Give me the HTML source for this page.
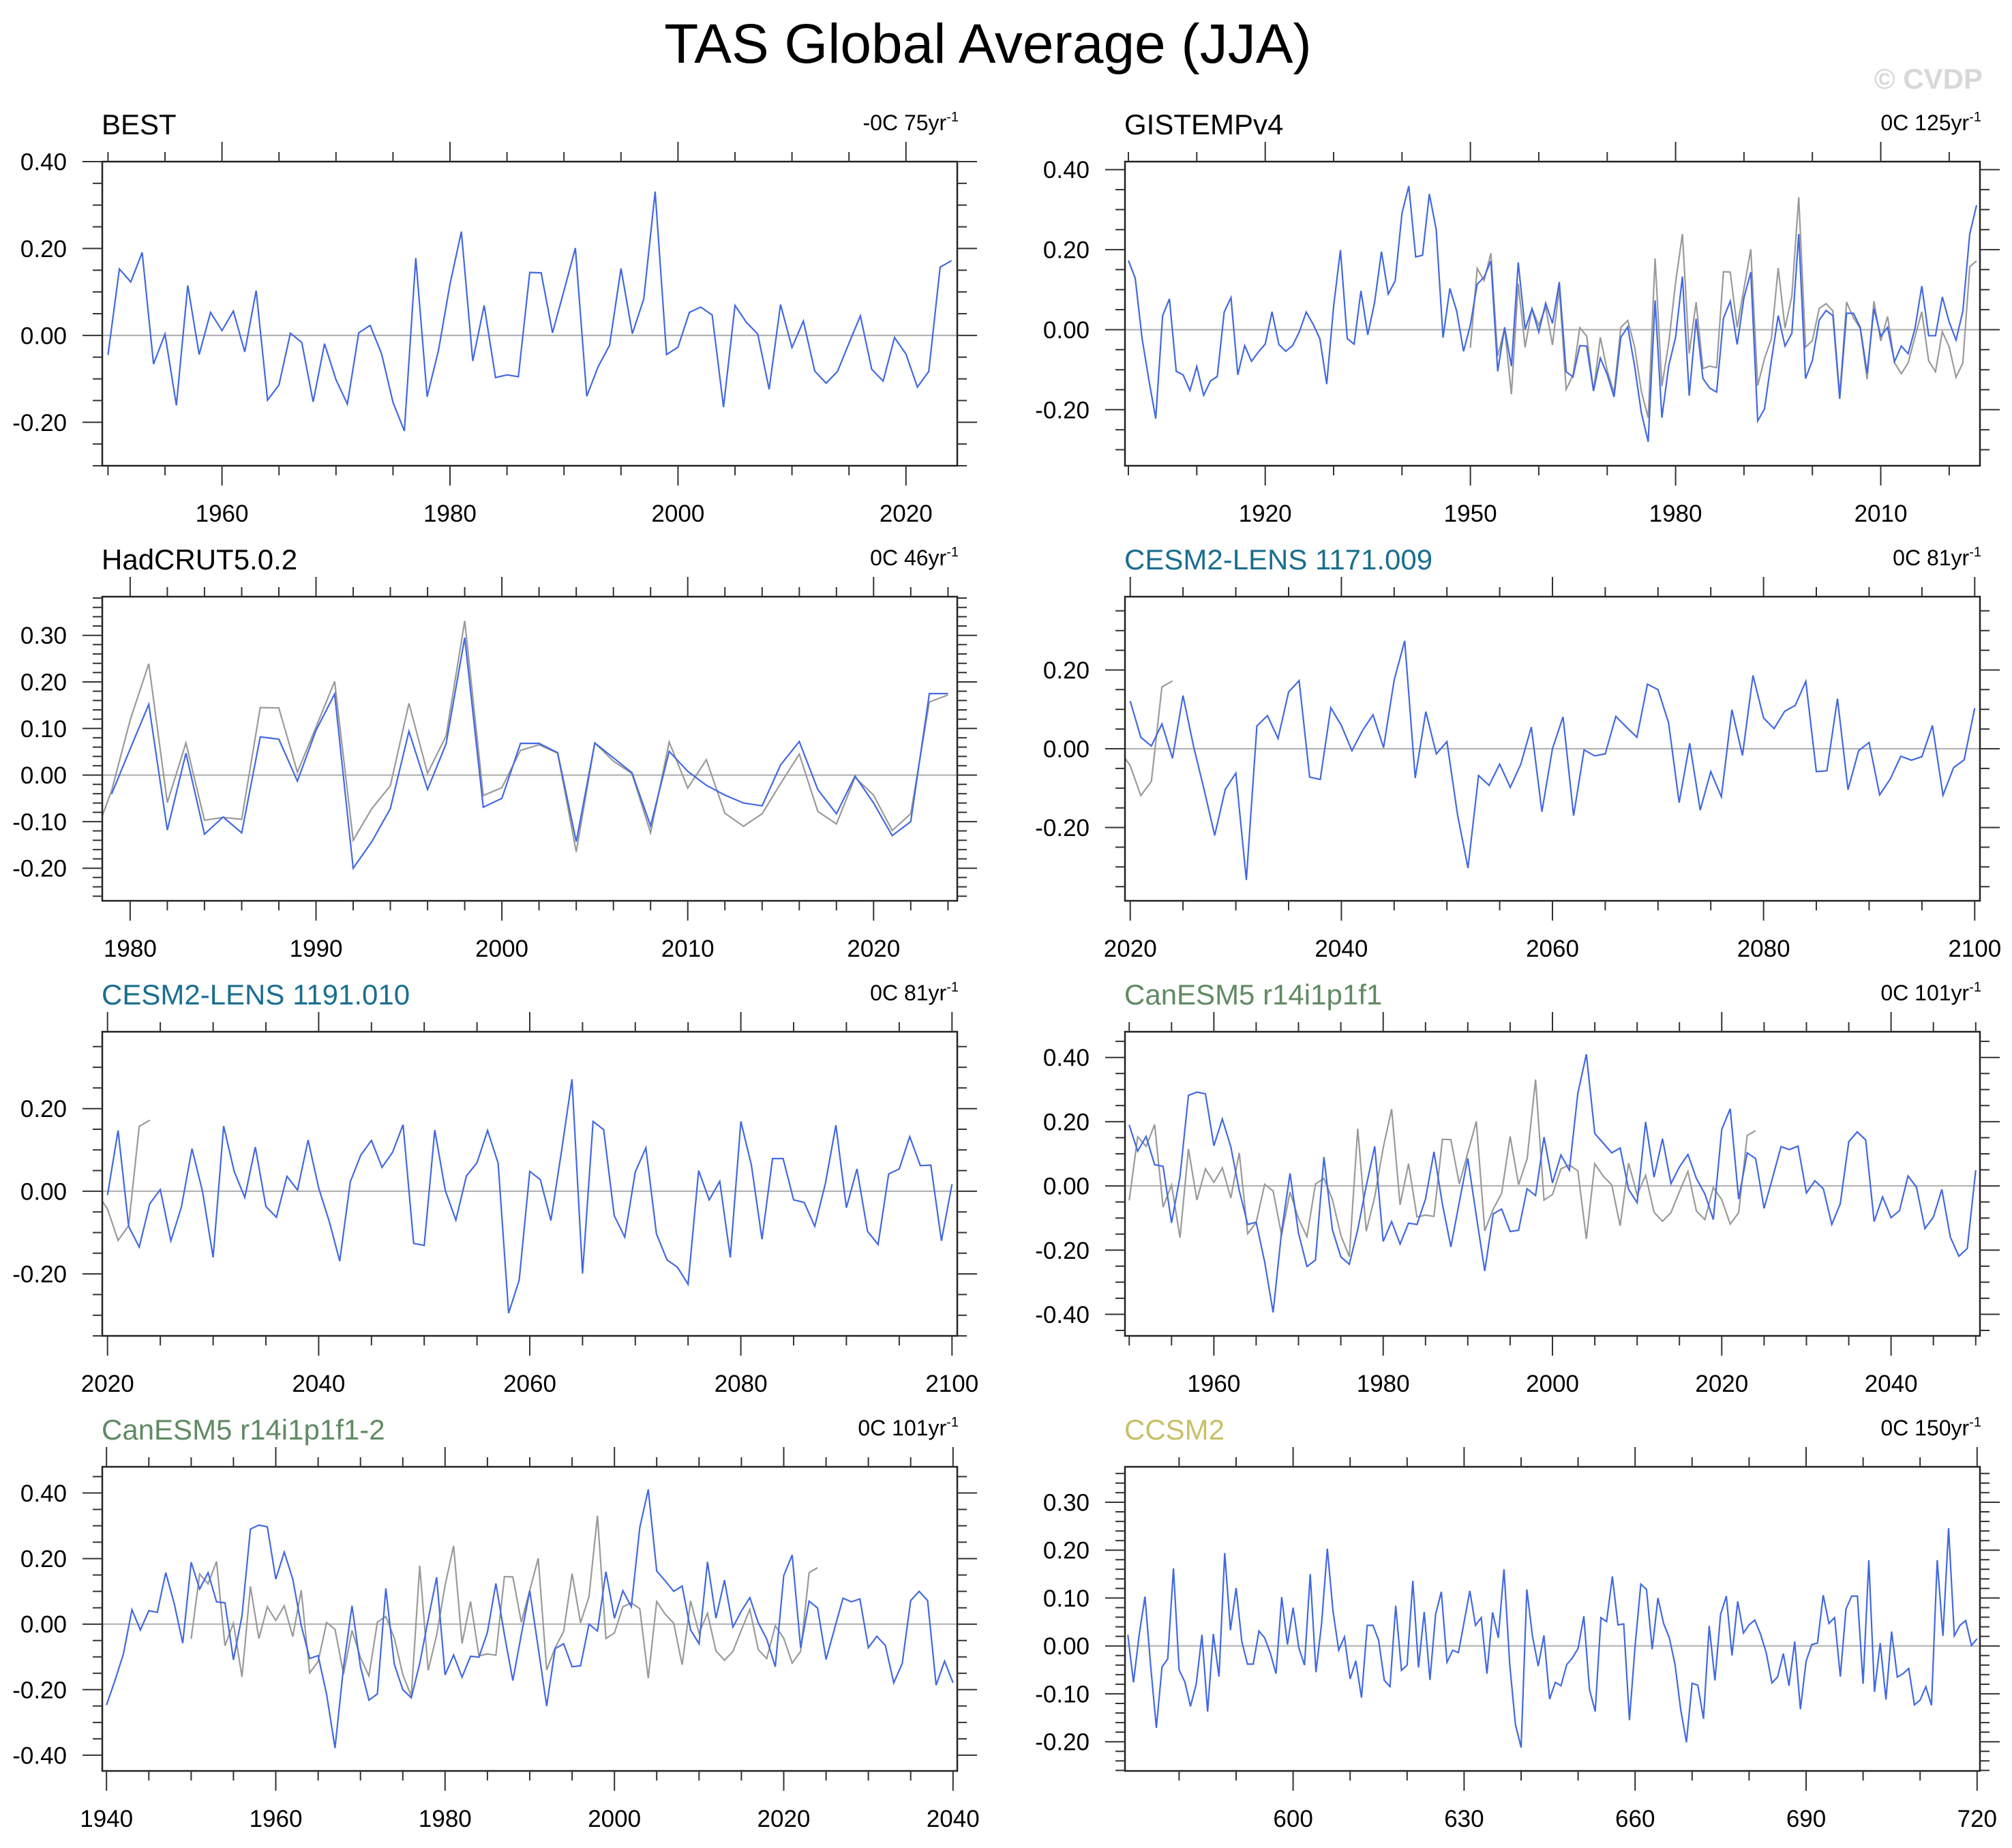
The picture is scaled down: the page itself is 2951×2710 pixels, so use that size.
<!DOCTYPE html>
<html>
<head>
<meta charset="utf-8">
<style>
html,body{margin:0;padding:0;background:#fff;}
#root{position:relative;width:2951px;height:2710px;overflow:hidden;background:#fff;font-family:"Liberation Sans",sans-serif;}
svg text{font-family:"Liberation Sans",sans-serif;}
</style>
</head>
<body>
<div id="root">
<svg id="chart" width="2951" height="2710" viewBox="0 0 2951 2710" xmlns="http://www.w3.org/2000/svg">
  <text x="1449" y="92" font-size="82" text-anchor="middle" fill="#000">TAS Global Average (JJA)</text>
  <text x="2908" y="130" font-size="42" font-weight="bold" text-anchor="end" fill="#d8d8d8">© CVDP</text>
</svg>
</div>
<script>
// ---------- data (annual JJA anomalies, degC) ----------
const bestStart = 1950;
const bestValues = [-0.045,0.153,0.123,0.191,-0.066,0.003,-0.161,0.115,-0.044,0.053,
0.011,0.056,-0.038,0.103,-0.149,-0.114,0.005,-0.016,-0.153,-0.019,
-0.102,-0.158,0.006,0.023,-0.042,-0.154,-0.220,0.178,-0.141,-0.034,
0.118,0.239,-0.059,0.069,-0.097,-0.091,-0.095,0.145,0.144,0.006,
0.103,0.201,-0.140,-0.072,-0.023,0.154,0.004,0.084,0.331,-0.044,
-0.027,0.053,0.065,0.047,-0.165,0.069,0.030,0.003,-0.124,0.071,
-0.028,0.033,-0.082,-0.110,-0.083,-0.018,0.045,-0.078,-0.105,-0.005,
-0.043,-0.119,-0.083,0.157,0.172];

const gistempStart = 1900;
const gistempValues = [0.173,0.129,-0.022,-0.126,-0.222,0.035,0.077,-0.104,-0.113,-0.152,
-0.092,-0.164,-0.128,-0.117,0.044,0.080,-0.113,-0.040,-0.079,-0.056,
-0.036,0.045,-0.037,-0.054,-0.040,-0.005,0.044,0.014,-0.023,-0.136,
0.058,0.199,-0.022,-0.036,0.097,-0.013,0.069,0.195,0.089,0.122,
0.291,0.359,0.182,0.186,0.339,0.250,-0.020,0.103,0.046,-0.054,
0.012,0.114,0.131,0.172,-0.104,0.006,-0.091,0.168,0.001,0.052,
-0.006,0.066,0.016,0.119,-0.105,-0.118,-0.040,-0.041,-0.153,-0.071,
-0.112,-0.168,-0.019,0.007,-0.090,-0.208,-0.280,0.073,-0.220,-0.090,
-0.019,0.133,-0.165,0.027,-0.122,-0.146,-0.156,0.029,0.071,-0.037,
0.080,0.144,-0.228,-0.198,-0.078,0.035,-0.041,-0.009,0.239,-0.122,
-0.077,0.024,0.048,0.035,-0.173,0.041,0.041,0.006,-0.109,0.053,
-0.016,0.006,-0.080,-0.041,-0.060,0.003,0.109,-0.015,-0.015,0.082,
0.019,-0.026,0.046,0.239,0.311];

const hadcrutStart = 1979;
const hadcrutValues = [-0.041,0.056,0.152,-0.118,0.047,-0.127,-0.090,-0.124,0.082,0.077,
-0.013,0.096,0.174,-0.200,-0.143,-0.072,0.094,-0.031,0.067,0.295,
-0.069,-0.050,0.068,0.068,0.048,-0.143,0.069,0.037,0.005,-0.109,
0.051,0.008,-0.022,-0.043,-0.060,-0.066,0.022,0.072,-0.031,-0.083,
-0.002,-0.060,-0.130,-0.100,0.175,0.175];

const cesm1171Start = 2020;
const cesm1171Values = [0.121,0.029,0.007,0.063,-0.024,0.135,0.006,-0.104,-0.220,-0.103,
-0.062,-0.333,0.058,0.084,0.026,0.144,0.173,-0.072,-0.078,0.104,
0.059,-0.005,0.046,0.086,0.003,0.174,0.274,-0.074,0.094,-0.013,
0.018,-0.167,-0.303,-0.068,-0.093,-0.039,-0.098,-0.039,0.055,-0.160,
0.000,0.081,-0.170,-0.003,-0.018,-0.013,0.082,0.055,0.029,0.164,
0.150,0.066,-0.137,0.014,-0.156,-0.058,-0.122,0.099,-0.017,0.186,
0.078,0.051,0.095,0.110,0.171,-0.058,-0.056,0.127,-0.104,-0.005,
0.016,-0.117,-0.077,-0.019,-0.029,-0.020,0.059,-0.118,-0.048,-0.028,
0.103];

const cesm1191Start = 2020;
const cesm1191Values = [-0.009,0.147,-0.085,-0.135,-0.030,0.004,-0.120,-0.038,0.103,-0.001,
-0.160,0.158,0.048,-0.015,0.107,-0.037,-0.063,0.036,0.003,0.124,
0.008,-0.073,-0.169,0.023,0.088,0.123,0.058,0.094,0.161,-0.126,
-0.131,0.148,0.002,-0.070,0.037,0.069,0.147,0.068,-0.295,-0.215,
0.048,0.028,-0.071,0.095,0.271,-0.199,0.169,0.149,-0.059,-0.111,
0.047,0.105,-0.103,-0.166,-0.184,-0.225,0.050,-0.021,0.024,-0.160,
0.169,0.063,-0.116,0.079,0.079,-0.021,-0.027,-0.085,0.018,0.160,
-0.040,0.054,-0.097,-0.129,0.042,0.054,0.132,0.062,0.063,-0.120,
0.017];

const canesmAStart = 1950;
const canesmAValues = [0.190,0.108,0.154,0.066,0.061,-0.115,0.029,0.282,0.292,0.287,
0.125,0.208,0.122,-0.014,-0.120,-0.113,-0.237,-0.394,-0.143,0.039,
-0.147,-0.251,-0.231,0.090,-0.136,-0.221,-0.244,-0.136,0.000,0.123,
-0.173,-0.111,-0.181,-0.116,-0.120,-0.041,0.106,-0.057,-0.190,-0.050,
0.086,-0.093,-0.265,-0.087,-0.072,-0.142,-0.138,-0.009,-0.030,0.152,
0.009,0.096,0.049,0.288,0.410,0.163,0.133,0.103,0.118,-0.011,
-0.052,0.199,0.027,0.147,0.007,0.059,0.098,0.023,-0.025,-0.105,
0.176,0.240,-0.041,0.103,0.085,-0.070,0.025,0.122,0.113,0.124,
-0.022,0.016,-0.009,-0.120,-0.056,0.138,0.168,0.143,-0.111,-0.034,
-0.099,-0.077,0.031,-0.004,-0.133,-0.097,-0.011,-0.159,-0.219,-0.195,
0.049];

const canesmBStart = 1940;
const canesmBValues = [-0.247,-0.172,-0.091,0.044,-0.018,0.041,0.036,0.157,0.063,-0.058,
0.189,0.107,0.157,0.068,0.065,-0.109,0.025,0.290,0.302,0.297,
0.137,0.220,0.137,-0.004,-0.105,-0.096,-0.214,-0.378,-0.130,0.056,
-0.130,-0.232,-0.213,0.109,-0.122,-0.200,-0.225,-0.120,0.014,0.143,
-0.155,-0.094,-0.162,-0.098,-0.101,-0.025,0.124,-0.032,-0.172,-0.032,
0.102,-0.072,-0.250,-0.075,-0.060,-0.130,-0.127,0.000,-0.021,0.160,
0.018,0.102,0.053,0.295,0.411,0.162,0.132,0.100,0.116,-0.018,
-0.060,0.190,0.018,0.134,-0.009,0.040,0.081,0.004,-0.046,-0.130,
0.148,0.211,-0.072,0.070,0.049,-0.108,-0.014,0.079,0.068,0.077,
-0.072,-0.037,-0.065,-0.179,-0.120,0.072,0.100,0.072,-0.186,-0.113,
-0.179];

const ccsm2Start = 571;
const ccsm2Values = [0.023,-0.076,0.024,0.103,-0.040,-0.171,-0.044,-0.027,0.162,-0.050,
-0.075,-0.126,-0.080,0.023,-0.137,0.025,-0.064,0.194,0.033,0.121,
0.009,-0.038,-0.038,0.031,0.017,-0.015,-0.058,0.102,0.003,0.080,
-0.004,-0.040,0.150,-0.055,0.047,0.203,0.073,-0.009,0.019,-0.069,
-0.031,-0.108,0.043,0.043,0.012,-0.072,-0.085,0.084,-0.051,-0.040,
0.136,-0.045,0.071,-0.071,0.066,0.113,-0.034,-0.009,-0.014,0.050,
0.115,0.043,0.059,-0.058,0.070,0.017,0.160,-0.038,-0.164,-0.212,
0.118,0.020,-0.042,0.022,-0.111,-0.076,-0.083,-0.039,-0.025,-0.005,
0.062,-0.091,-0.137,0.059,0.051,0.145,0.044,0.046,-0.155,0.000,
0.129,0.118,-0.007,0.100,0.047,0.017,-0.038,-0.133,-0.201,-0.078,
-0.082,-0.152,0.042,-0.072,0.066,0.104,-0.020,0.093,0.027,0.044,
0.054,0.025,-0.014,-0.077,-0.065,-0.016,-0.083,0.009,-0.132,-0.032,
0.003,0.006,0.106,0.047,0.059,-0.064,0.077,0.104,0.104,-0.079,
0.179,-0.096,0.006,-0.112,0.030,-0.065,-0.058,-0.047,-0.123,-0.113,
-0.085,-0.124,0.179,0.021,0.246,0.021,0.043,0.053,0.001,0.015];

const panelTitles = ["BEST","GISTEMPv4","HadCRUT5.0.2","CESM2-LENS 1171.009","CESM2-LENS 1191.010","CanESM5 r14i1p1f1","CanESM5 r14i1p1f1-2","CCSM2"];
const panelTrendText = ["-0C 75yr","0C 125yr","0C 46yr","0C 81yr","0C 81yr","0C 101yr","0C 101yr","0C 150yr"];

// ---------- drawing ----------
const NS = "http://www.w3.org/2000/svg";
const svg = document.getElementById("chart");
const BLUE = "#4169e1", GRAY = "#9a9a9a";
const BOXW = 1254, BOXH = 446;
const COLX = [150, 1650], ROWY = [237, 875, 1513, 2151];

function mk(tag, parent){ const e = document.createElementNS(NS, tag); parent.appendChild(e); return e; }

function drawPanel(p, idx){
  const g = mk("g", svg);
  
  
  const x0 = p.x0, y0 = p.y0, w = BOXW, h = BOXH;
  const sx = v => x0 + (v - p.xmin) / (p.xmax - p.xmin) * w;
  const sy = v => y0 + (p.ymax - v) / (p.ymax - p.ymin) * h;

  const cp = mk("clipPath", g);
  cp.setAttribute("id", "clip" + idx);
  const cr = mk("rect", cp);
  cr.setAttribute("x", x0); cr.setAttribute("y", y0); cr.setAttribute("width", w); cr.setAttribute("height", h);

  const zl = mk("line", g);
  
  
  zl.setAttribute("x1", x0); zl.setAttribute("x2", x0 + w);
  zl.setAttribute("y1", sy(0)); zl.setAttribute("y2", sy(0));
  zl.setAttribute("stroke", "#b4b4b4"); zl.setAttribute("stroke-width", "2.2");

  p.series.forEach(s => {
    const pts = [];
    s.vals.forEach((v, i) => {
      const yr = s.start + i;
      if (yr >= p.xmin - 1.5 && yr <= p.xmax + 1.5) pts.push(sx(yr).toFixed(1) + "," + sy(v).toFixed(1));
    });
    const pl = mk("polyline", g);
    
    
    pl.setAttribute("points", pts.join(" "));
    pl.setAttribute("fill", "none");
    pl.setAttribute("stroke", s.color);
    pl.setAttribute("stroke-width", "2.2");
    pl.setAttribute("stroke-linejoin", "miter");
    pl.setAttribute("clip-path", "url(#clip" + idx + ")");
  });

  const box = mk("rect", g);
  
  
  box.setAttribute("x", x0); box.setAttribute("y", y0); box.setAttribute("width", w); box.setAttribute("height", h);
  box.setAttribute("fill", "none"); box.setAttribute("stroke", "#222"); box.setAttribute("stroke-width", "2.5");

  const ticks = mk("path", g);
  
  
  let d = "";
  const MAJ = 29, MIN = 14;

  const kyMin = Math.ceil(p.ymin / p.yMinor - 1e-6), kyMax = Math.floor(p.ymax / p.yMinor + 1e-6);
  for (let k = kyMin; k <= kyMax; k++){
    const v = k * p.yMinor;
    const isMaj = Math.abs(v / p.yMajor - Math.round(v / p.yMajor)) < 1e-6;
    const L = isMaj ? MAJ : MIN, y = sy(v).toFixed(1);
    d += `M${x0} ${y}H${x0 - L}M${x0 + w} ${y}H${x0 + w + L}`;
    if (isMaj){
      const t = mk("text", g);
      
      
      t.setAttribute("x", x0 - 52); t.setAttribute("y", sy(v) + 12.5);
      t.setAttribute("font-size", "35"); t.setAttribute("text-anchor", "end");
      t.textContent = (Math.abs(v) < 1e-9 ? 0 : v).toFixed(2);
    }
  }
  const kxMin = Math.ceil(p.xmin / p.xMinor - 1e-6), kxMax = Math.floor(p.xmax / p.xMinor + 1e-6);
  for (let k = kxMin; k <= kxMax; k++){
    const v = k * p.xMinor;
    const isMaj = v % p.xMajor === 0;
    const L = isMaj ? MAJ : MIN, x = sx(v).toFixed(1);
    d += `M${x} ${y0}V${y0 - L}M${x} ${y0 + h}V${y0 + h + L}`;
    if (isMaj){
      const t = mk("text", g);
      
      
      t.setAttribute("x", sx(v)); t.setAttribute("y", y0 + h + 82);
      t.setAttribute("font-size", "35"); t.setAttribute("text-anchor", "middle");
      t.textContent = String(v);
    }
  }
  ticks.setAttribute("d", d);
  ticks.setAttribute("stroke", "#333"); ticks.setAttribute("stroke-width", "2"); ticks.setAttribute("fill", "none");

  const tt = mk("text", g);
  
  
  tt.setAttribute("x", x0 - 1); tt.setAttribute("y", y0 - 40);
  tt.setAttribute("font-size", "42"); tt.setAttribute("fill", p.titleColor);
  tt.textContent = panelTitles[idx];

  const rt = mk("text", g);
  
  
  rt.setAttribute("x", x0 + w + 2); rt.setAttribute("y", y0 - 46);
  rt.setAttribute("font-size", "32"); rt.setAttribute("text-anchor", "end");
  const ts1 = mk("tspan", rt);
  ts1.textContent = panelTrendText[idx];
  const ts2 = mk("tspan", rt);
  ts2.setAttribute("font-size", "20"); ts2.setAttribute("dy", "-13");
  ts2.textContent = "-1";
}

const panels = [
  {key:"best", x0:COLX[0], y0:ROWY[0], xmin:1949.5, xmax:2024.5, ymin:-0.30, ymax:0.40, xMajor:20, xMinor:5, yMajor:0.2, yMinor:0.05, titleColor:"#000",
   series:[{name:"best-series", vals:bestValues, start:bestStart, color:BLUE}]},
  {key:"gistemp", x0:COLX[1], y0:ROWY[0], xmin:1899.5, xmax:2024.5, ymin:-0.34, ymax:0.42, xMajor:30, xMinor:10, yMajor:0.2, yMinor:0.05, titleColor:"#000",
   series:[{name:"best-reference-series", vals:bestValues, start:bestStart, color:GRAY},{name:"gistemp-series", vals:gistempValues, start:gistempStart, color:BLUE}]},
  {key:"hadcrut", x0:COLX[0], y0:ROWY[1], xmin:1978.5, xmax:2024.5, ymin:-0.27, ymax:0.383, xMajor:10, xMinor:2, yMajor:0.1, yMinor:0.02, titleColor:"#000",
   series:[{name:"best-reference-series", vals:bestValues, start:bestStart, color:GRAY},{name:"hadcrut-series", vals:hadcrutValues, start:hadcrutStart, color:BLUE}]},
  {key:"cesm2-1171", x0:COLX[1], y0:ROWY[1], xmin:2019.5, xmax:2100.5, ymin:-0.386, ymax:0.386, xMajor:20, xMinor:5, yMajor:0.2, yMinor:0.05, titleColor:"#1a6e8e",
   series:[{name:"best-reference-series", vals:bestValues, start:bestStart, color:GRAY},{name:"cesm2-1171-series", vals:cesm1171Values, start:cesm1171Start, color:BLUE}]},
  {key:"cesm2-1191", x0:COLX[0], y0:ROWY[2], xmin:2019.5, xmax:2100.5, ymin:-0.35, ymax:0.386, xMajor:20, xMinor:5, yMajor:0.2, yMinor:0.05, titleColor:"#1a6e8e",
   series:[{name:"best-reference-series", vals:bestValues, start:bestStart, color:GRAY},{name:"cesm2-1191-series", vals:cesm1191Values, start:cesm1191Start, color:BLUE}]},
  {key:"canesm5", x0:COLX[1], y0:ROWY[2], xmin:1949.5, xmax:2050.5, ymin:-0.467, ymax:0.48, xMajor:20, xMinor:5, yMajor:0.2, yMinor:0.05, titleColor:"#608a63",
   series:[{name:"best-reference-series", vals:bestValues, start:bestStart, color:GRAY},{name:"canesm5-series", vals:canesmAValues, start:canesmAStart, color:BLUE}]},
  {key:"canesm5-2", x0:COLX[0], y0:ROWY[3], xmin:1939.5, xmax:2040.5, ymin:-0.448, ymax:0.48, xMajor:20, xMinor:5, yMajor:0.2, yMinor:0.05, titleColor:"#608a63",
   series:[{name:"best-reference-series", vals:bestValues, start:bestStart, color:GRAY},{name:"canesm5-2-series", vals:canesmBValues, start:canesmBStart, color:BLUE}]},
  {key:"ccsm2", x0:COLX[1], y0:ROWY[3], xmin:570.5, xmax:720.5, ymin:-0.261, ymax:0.374, xMajor:30, xMinor:10, yMajor:0.1, yMinor:0.02, titleColor:"#c8c068",
   series:[{name:"ccsm2-series", vals:ccsm2Values, start:ccsm2Start, color:BLUE}]}
];
panels.forEach(drawPanel);
</script>
</body>
</html>
